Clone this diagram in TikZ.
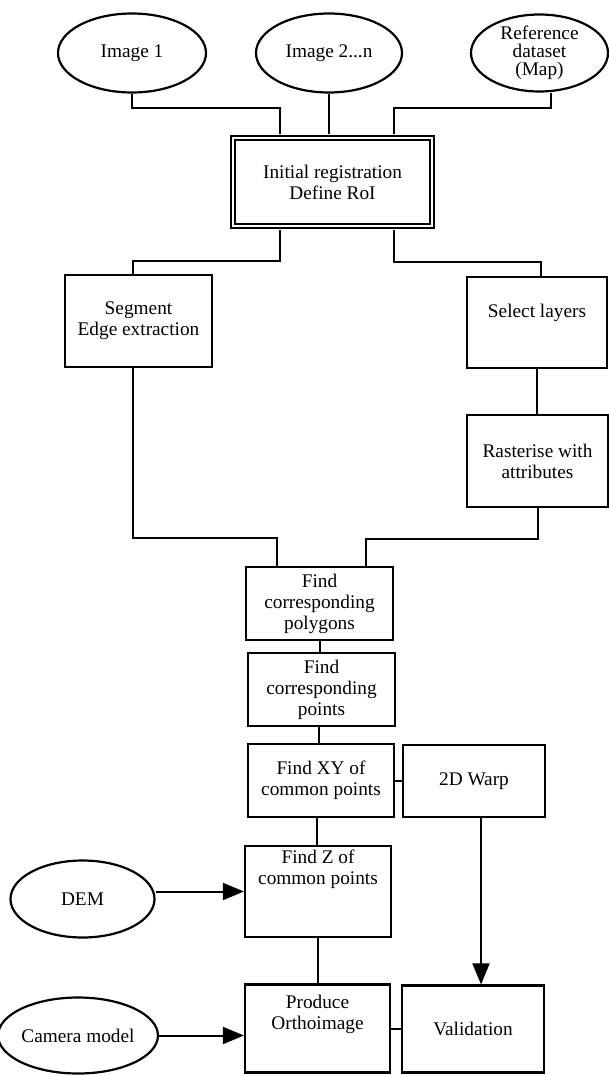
\documentclass[tikz,border=0pt]{standalone}
\usepackage{fontspec}
\setmainfont{Liberation Serif}
\usetikzlibrary{shapes.geometric,arrows.meta}
\tikzset{
  every node/.style={font=\fontsize{19.3}{21}\selectfont},
  stage/.style={draw, line width=2.2pt, align=center, inner sep=0pt, fill=white},
  source/.style={draw, ellipse, line width=2.2pt, align=center, inner sep=0pt},
  link/.style={line width=2pt},
  feed/.style={line width=2pt, -{Triangle[length=21pt,width=17pt]}},
}
\begin{document}
\begin{tikzpicture}[x=1pt,y=-1pt]
    \useasboundingbox (0,0) rectangle (609,1075);
    % Eingangsdaten
    \node[source, minimum width=148pt, minimum height=79pt] (img1) at (132,53) {Image 1};
    \node[source, minimum width=146pt, minimum height=79pt] (img2) at (329,53) {Image 2...n};
    \node[source, minimum width=137pt, minimum height=77pt, font=\fontsize{19.3}{18}\selectfont] (ref) at (539.5,53) {Reference\\dataset\\(Map)};
    \node[stage, double, double distance=2.6pt, line width=1.8pt, minimum width=199pt, minimum height=88pt] (init) at (332.5,182) {Initial registration\\Define RoI};
    % zwei Zweige
    \node[stage, minimum width=147pt, minimum height=92pt] (seg) at (138.5,321) {Segment\\Edge extraction};
    \node[stage, minimum width=140pt, minimum height=91pt] (sel) at (537,322.5) {Select layers\\[3pt]~};
    \node[stage, minimum width=141pt, minimum height=92pt] (ras) at (537.5,461) {Rasterise with\\attributes};
    % Zuordnung
    \node[stage, minimum width=147pt, minimum height=73pt] (poly) at (319.5,603.5) {Find\\corresponding\\polygons};
    \node[stage, minimum width=147pt, minimum height=73pt] (pts) at (321.5,689.5) {Find\\corresponding\\points};
    \node[stage, minimum width=146pt, minimum height=73pt] (xy) at (321,780.5) {Find XY of\\common points};
    \node[stage, minimum width=142pt, minimum height=72pt] (warp) at (474,781) {2D Warp};
    \node[stage, minimum width=146pt, minimum height=91pt] (findz) at (318,891.5) {Find Z of\\common points\\[27pt]~};
    \node[source, minimum width=144pt, minimum height=77pt] (dem) at (82.5,899) {DEM};
    \node[stage, minimum width=145pt, minimum height=88pt] (prod) at (317.5,1028.5) {Produce\\Orthoimage\\[12pt]~};
    \node[stage, minimum width=142pt, minimum height=87pt] (val) at (473,1029) {Validation};
    \node[source, minimum width=150pt, minimum height=76pt] (cam) at (78,1035.5) {Camera model};
    % Verbindungen oben
    \draw[link, shorten >=3pt] (img1.south) -- ++(0,14) -| ([xshift=-52.5pt]init.north);
    \draw[link, shorten >=3pt] (img2.south) -- (img2.south |- init.north);
    \draw[link, shorten >=3pt] ([xshift=11pt]ref.south) -- ++(0,15) -| ([xshift=61.5pt]init.north);
    \draw[link, shorten <=3pt] ([xshift=-52.5pt]init.south) -- ++(0,34) -| ([xshift=-5.5pt]seg.north);
    \draw[link, shorten <=3pt] ([xshift=61.5pt]init.south) -- ++(0,35) -| ([xshift=4pt]sel.north);
    \draw[link] (sel.south) -- (sel.south |- ras.north);
    \draw[link] ([xshift=-5.5pt]seg.south) -- ++(0,170) -| ([xshift=-42.5pt]poly.north);
    \draw[link] (ras.south) -- ++(0,31) -| ([xshift=46.5pt]poly.north);
    % Verbindungen unten
    \draw[link] (poly.south) -- (poly.south |- pts.north);
    \draw[link] ([xshift=-3pt]pts.south) -- ([xshift=-3pt]pts.south |- xy.north);
    \draw[link] (xy.east) -- (xy.east -| warp.west);
    \draw[link] ([xshift=-4pt]xy.south) -- ([xshift=-4pt]xy.south |- findz.north);
    \draw[link] (findz.south) -- (findz.south |- prod.north);
    \draw[link] (prod.east) -- (prod.east -| val.west);
    \draw[feed] ([xshift=7pt]warp.south) -- ([xshift=7pt]warp.south |- val.north);
    \draw[feed] (dem.east |- findz.west) -- (findz.west);
    \draw[feed] (cam.east) -- (cam.east -| prod.west);
\end{tikzpicture}
\end{document}
